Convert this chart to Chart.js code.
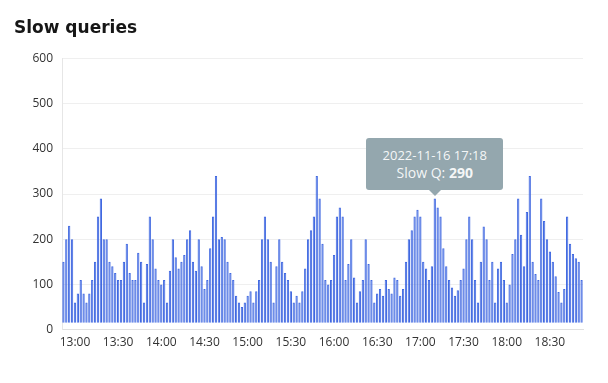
<!DOCTYPE html>
<html>
<head>
<meta charset="utf-8">
<script src="https://cdn.jsdelivr.net/npm/chart.js@4.4.1/dist/chart.umd.min.js"></script>
<style>
html,body{margin:0;padding:0;background:#fff;}
#wrap{position:relative;width:608px;height:383px;}
#tip{position:absolute;box-sizing:border-box;width:137px;padding:9px 4px 9px 4px;background:rgb(148,167,174);color:rgba(255,255,255,0.92);border-radius:3px;text-align:center;font-family:'Open Sans',sans-serif;pointer-events:none;white-space:nowrap;}
#tip .t{font-size:13px;line-height:17px;}
#tip .b{font-size:14px;line-height:17px;}
#tip .b b{font-weight:700;}
#tip:after{content:'';position:absolute;left:50%;bottom:-6px;margin-left:-6px;border-left:6px solid transparent;border-right:6px solid transparent;border-top:6px solid rgb(148,167,174);}
</style>
</head>
<body>
<div id="wrap">
<canvas id="c" width="608" height="383"></canvas>
<div id="tip"></div>
</div>
<script>
// ---- data ----
const chartTitle = 'Slow queries';
const seriesName = 'Slow Q';
const dateLabel = '2022-11-16';
const startTime = '13:00';      // time of first bar
const stepMinutes = 2;          // minutes between bars
const slowQueries = [
  150,200,230,200,60,80,110,80,60,80,110,150,250,290,200,200,150,140,125,110,
  110,150,190,125,110,110,170,150,60,145,250,200,135,110,100,110,60,130,200,160,
  135,150,165,200,220,150,130,200,140,90,110,180,250,340,200,205,200,150,125,110,
  75,60,50,60,75,85,60,85,110,200,250,200,150,60,140,200,150,125,110,85,
  60,75,60,85,135,200,220,250,340,290,190,110,100,110,165,250,270,250,110,145,
  200,115,60,85,110,200,145,110,60,80,90,75,110,90,80,115,110,75,90,150,
  200,220,250,265,250,150,135,110,140,290,270,250,180,140,110,93,75,87,110,135,
  200,250,200,110,60,150,228,200,110,150,60,135,150,110,60,100,167,200,290,210,
  140,260,340,150,123,110,290,240,200,173,150,118,83,60,90,250,190,167,158,150,
  110
];
const tickLabels = ['13:00','13:30','14:00','14:30','15:00','15:30','16:00','16:30','17:00','17:30','18:00','18:30'];
const firstTickIndex = 4;
const tickEvery = 15;
const yTicks = [0,100,200,300,400,500,600];
const barBase = 15;
const tipIndex = 129;

// category labels (bar times)
function fmt(m){const h=Math.floor(m/60)%24, mm=m%60;return String(h).padStart(2,'0')+':'+String(mm).padStart(2,'0');}
const t0 = parseInt(startTime.slice(0,2))*60+parseInt(startTime.slice(3));
const times = slowQueries.map((_,i)=>fmt(t0+i*stepMinutes));

const tipPlugin = {
  id:'fixedTip',
  afterDraw(chart){
    const el = chart.getDatasetMeta(0).data[tipIndex];
    const tip = document.getElementById('tip');
    tip.innerHTML = '<div class="t">'+dateLabel+' '+times[tipIndex]+'</div><div class="b">'+seriesName+': <b>'+slowQueries[tipIndex]+'</b></div>';
    const w = tip.offsetWidth, h = tip.offsetHeight;
    tip.style.left = (el.x - w/2)+'px';
    tip.style.top = (el.y - 3 - 6 - h)+'px';
  }
};

new Chart(document.getElementById('c'),{
  type:'bar',
  data:{
    labels: times,
    datasets:[{
      label: seriesName,
      data: slowQueries,
      base: barBase,
      backgroundColor:'rgba(65,105,225,0.75)',
      borderColor:'rgb(65,105,225)',
      borderWidth:1,
      barPercentage:0.8,
      categoryPercentage:1
    }]
  },
  options:{
    responsive:false,
    animation:false,
    events:[],
    layout:{padding:{left:14,right:25,top:18,bottom:27}},
    plugins:{
      legend:{display:false},
      tooltip:{enabled:false},
      title:{display:true,text:chartTitle,align:'start',color:'#161616',
        font:{family:'DejaVu Sans',size:17,weight:'bold'},padding:{top:0,bottom:20}}
    },
    scales:{
      x:{
        grid:{display:false,drawTicks:false},
        border:{display:true,color:'#e0e0e0'},
        ticks:{
          autoSkip:false,maxRotation:0,padding:6,color:'#333',
          font:{family:'Open Sans',size:12},
          callback:(v,i)=>{const k=i-firstTickIndex;return (k>=0&&k%tickEvery===0&&tickLabels[k/tickEvery])?tickLabels[k/tickEvery]:'';}
        }
      },
      y:{
        min:yTicks[0],max:yTicks[yTicks.length-1],
        afterFit:(s)=>{s.width=48;},
        afterBuildTicks:(s)=>{s.ticks=yTicks.map(v=>({value:v}));},
        grid:{color:'#efefef',drawTicks:false},
        border:{display:true,color:'#e6e6e6'},
        ticks:{padding:9,color:'#333',font:{family:'Open Sans',size:12}}
      }
    }
  },
  plugins:[tipPlugin]
});
</script>
</body>
</html>
